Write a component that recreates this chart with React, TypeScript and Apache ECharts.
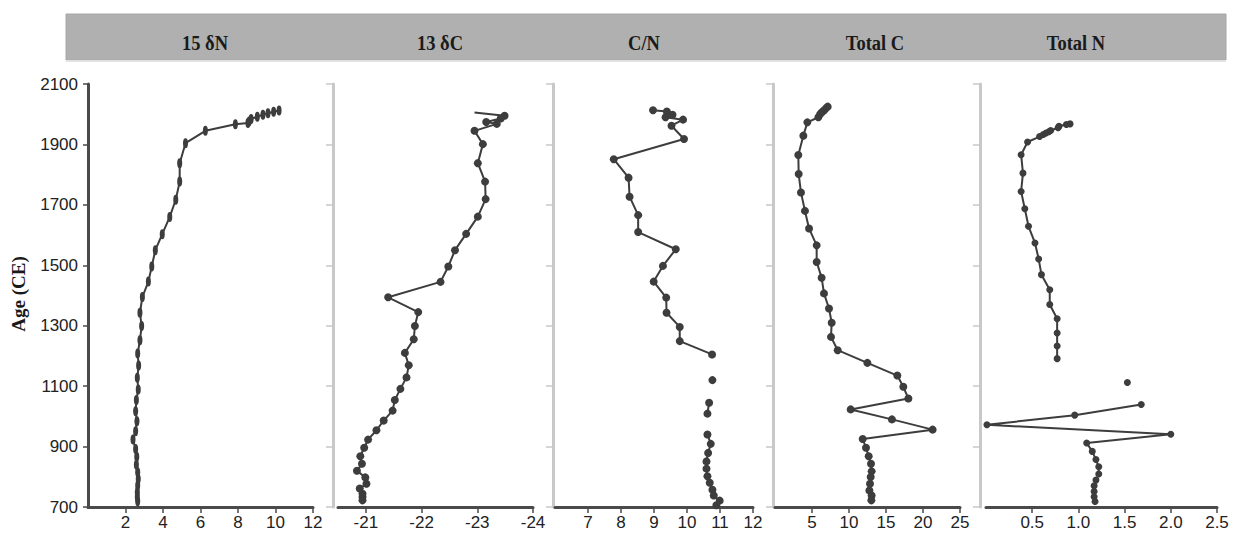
import React, { useEffect, useRef } from "react";
import * as echarts from "echarts";

// ---- Data ----
const panelTitles = ["15 δN", "13 δC", "C/N", "Total C", "Total N"];
const ageTicks = [700, 900, 1100, 1300, 1500, 1700, 1900, 2100];

const n15Value = [10.19, 9.9, 9.6, 9.33, 9.03, 8.7, 8.59, 8.53, 7.86, 6.26, 5.2, 4.89, 4.89, 4.68, 4.36, 3.96, 3.59, 3.4, 3.22, 2.9, 2.77, 2.86, 2.77, 2.65, 2.7, 2.63, 2.68, 2.58, 2.54, 2.61, 2.54, 2.4, 2.54, 2.6, 2.58, 2.65, 2.68, 2.65, 2.63, 2.63, 2.65];
const n15Year = [2012, 2008, 2003, 1998, 1992, 1984, 1976, 1971, 1967, 1945, 1904, 1838, 1777, 1717, 1660, 1603, 1550, 1496, 1446, 1395, 1343, 1299, 1252, 1208, 1168, 1128, 1089, 1054, 1017, 984, 951, 923, 892, 866, 840, 815, 793, 771, 749, 733, 719];

const c13Value = [-22.95, -23.49, -23.42, -23.16, -23.35, -22.95, -23.1, -23.01, -23.14, -23.15, -23.01, -22.8, -22.6, -22.48, -22.34, -21.4, -21.94, -21.88, -21.86, -21.7, -21.77, -21.73, -21.62, -21.52, -21.48, -21.32, -21.19, -21.04, -20.97, -20.9, -20.93, -20.84, -20.99, -21.01, -20.89, -20.94, -20.94, -20.94];
const c13Year = [2006, 1995, 1986, 1974, 1968, 1945, 1901, 1838, 1777, 1719, 1661, 1604, 1550, 1496, 1445, 1394, 1345, 1299, 1255, 1210, 1169, 1129, 1091, 1054, 1019, 986, 954, 923, 896, 868, 843, 820, 798, 777, 761, 744, 733, 722];

const cnValue = [8.97, 9.39, 9.42, 9.56, 9.35, 9.88, 9.53, 9.91, 7.78, 8.23, 8.26, 8.52, 8.52, 9.66, 9.27, 8.99, 9.37, 9.38, 9.78, 9.78, 10.76, null, 10.77, null, 10.67, 10.62, null, 10.62, 10.72, 10.64, 10.59, 10.59, 10.62, 10.69, 10.77, 10.81, 10.99, 10.89];
const cnYear = [2013, 2009, 2001, 1998, 1990, 1982, 1962, 1918, 1851, 1790, 1727, 1666, 1610, 1553, 1498, 1446, 1393, 1343, 1296, 1249, 1205, null, 1120, null, 1045, 1009, null, 940, 909, 879, 851, 827, 802, 780, 757, 738, 721, 706];

const tcValue = [7.12, 6.9, 6.6, 6.3, 6.1, 5.86, 4.37, 3.83, 3.15, 3.2, 3.51, 4.05, 4.6, 5.63, 5.63, 6.3, 6.62, 7.3, 7.66, 7.57, 8.47, 12.48, 16.53, 17.34, 18.02, 10.23, 15.8, 21.3, 11.85, 12.3, 12.66, 12.97, 13.06, 12.93, 12.84, 12.75, 13.06, 13.02];
const tcYear = [2025, 2020, 2012, 2006, 2000, 1990, 1973, 1929, 1865, 1802, 1741, 1680, 1622, 1566, 1511, 1459, 1407, 1357, 1310, 1263, 1219, 1177, 1135, 1098, 1059, 1023, 990, 956, 925, 896, 868, 843, 818, 799, 777, 755, 738, 722];

const tnValue = [0.91, 0.87, 0.79, 0.78, 0.7, 0.68, 0.65, 0.62, 0.58, 0.45, 0.38, 0.4, 0.38, 0.42, 0.46, 0.53, 0.57, 0.6, 0.69, 0.69, 0.77, 0.77, 0.77, 0.77, null, 1.53, null, 1.68, 0.96, 0.01, 2.0, 1.09, 1.15, 1.19, 1.22, 1.22, 1.19, 1.17, 1.17, 1.17, 1.18];
const tnYear = [1968, 1966, 1960, 1955, 1946, 1942, 1938, 1933, 1926, 1908, 1866, 1805, 1744, 1687, 1629, 1574, 1521, 1469, 1419, 1370, 1323, 1276, 1233, 1191, null, 1112, null, 1039, 1004, 972, 941, 912, 884, 857, 833, 809, 789, 770, 751, 734, 718];

const xTicks1 = [2, 4, 6, 8, 10, 12];
const xTicks2 = [-21, -22, -23, -24];
const xTicks3 = [7, 8, 9, 10, 11, 12];
const xTicks4 = [5, 10, 15, 20, 25];
const xTicks5 = [0.5, 1.0, 1.5, 2.0, 2.5];

// ---- Layout ----
const grids = [
  { left: 88, width: 225, yOffset: 0 },
  { left: 338, width: 195, yOffset: 5 },
  { left: 555, width: 198, yOffset: 2 },
  { left: 775, width: 185, yOffset: 2 },
  { left: 986, width: 231, yOffset: 6 },
];
const titleCenters = [205, 440, 644, 875, 1076];

const pairs = (xs: (number | null)[], ys: (number | null)[]) =>
  xs.map((x, i) => (x === null || ys[i] === null ? ["-", "-"] : [x, ys[i]]));

export default function App() {
  const ref = useRef<HTMLDivElement>(null);

  useEffect(() => {
    if (!ref.current) return;
    const chart = echarts.init(ref.current, undefined, { renderer: "svg" });
    const dark = "#4a4a4a";
    const light = "#c8c8c8";
    const lineColor = "#3d3d3d";
    const labelFont = { fontFamily: "Liberation Sans, Arial, sans-serif", fontSize: 17, color: "#222" };

    const xCfg = [
      { min: 0, max: 12, ticks: xTicks1, inverse: false, fmt: (v: number) => String(v) },
      { min: -24, max: -20.5, ticks: xTicks2, inverse: true, fmt: (v: number) => String(v) },
      { min: 6, max: 12, ticks: xTicks3, inverse: false, fmt: (v: number) => String(v) },
      { min: 0, max: 25, ticks: xTicks4, inverse: false, fmt: (v: number) => String(v) },
      { min: 0, max: 2.5, ticks: xTicks5, inverse: false, fmt: (v: number) => v.toFixed(1) },
    ];

    const xAxis = xCfg.map((c, i) => ({
      type: "value",
      gridIndex: i,
      min: c.min,
      max: c.max,
      inverse: c.inverse,
      axisLine: { show: true, onZero: false, lineStyle: { color: dark, width: 3 } },
      axisTick: { show: true, length: 6, customValues: c.ticks, lineStyle: { color: dark, width: 1.5 } },
      axisLabel: { show: true, margin: 7, customValues: c.ticks, formatter: c.fmt, ...labelFont },
      splitLine: { show: false },
    }));

    const yAxis = grids.map((g, i) => ({
      type: "value",
      gridIndex: i,
      min: 700,
      max: 2100,
      offset: g.yOffset,
      axisLine: { show: true, onZero: false, lineStyle: { color: i === 0 ? dark : light, width: 3 } },
      axisTick: { show: true, length: i === 0 ? 5 : 7, customValues: ageTicks, lineStyle: { color: i === 0 ? dark : light, width: 1.5 } },
      axisLabel: { show: i === 0, margin: 10, customValues: ageTicks, formatter: (v: number) => String(v), ...labelFont },
      splitLine: { show: false },
    }));

    const ellipsePath = "path://M0,9a5,9 0 1,0 10,0a5,9 0 1,0 -10,0";
    const c13Data = pairs(c13Value, c13Year).map((d, i) => (i === 0 ? { value: d, symbolSize: 0 } : d));

    const seriesData = [
      pairs(n15Value, n15Year),
      c13Data,
      pairs(cnValue, cnYear),
      pairs(tcValue, tcYear),
      pairs(tnValue, tnYear),
    ];

    const series = seriesData.map((data, i) => ({
      type: "line",
      name: panelTitles[i],
      xAxisIndex: i,
      yAxisIndex: i,
      data,
      symbol: i === 0 ? ellipsePath : "circle",
      symbolSize: i === 0 ? [5, 10] : i === 4 ? 7 : 8,
      showAllSymbol: true,
      connectNulls: false,
      clip: false,
      lineStyle: { color: lineColor, width: 2 },
      itemStyle: { color: lineColor, borderWidth: 0 },
    }));

    const graphic: any[] = [
      { type: "rect", shape: { x: 66, y: 14, width: 1160, height: 46 }, style: { fill: "#b0b0b0", stroke: "#a6a6a6", lineWidth: 1 } },
      { type: "rect", shape: { x: 66, y: 60, width: 1160, height: 2 }, style: { fill: "#e2e2e2" } },
      ...panelTitles.map((t, i) => ({
        type: "text",
        x: titleCenters[i],
        y: 43,
        scaleX: 0.88,
        style: {
          text: t,
          fontFamily: "Liberation Serif, Times New Roman, serif",
          fontWeight: "bold",
          fontSize: 21,
          fill: "#1a1a1a",
          textAlign: "center",
          textVerticalAlign: "middle",
        },
      })),
      {
        type: "text",
        x: 18,
        y: 294,
        rotation: Math.PI / 2,
        style: {
          text: "Age (CE)",
          fontFamily: "Liberation Serif, Times New Roman, serif",
          fontWeight: "bold",
          fontSize: 19,
          fill: "#1a1a1a",
          textAlign: "center",
          textVerticalAlign: "middle",
        },
      },
    ];

    chart.setOption({
      animation: false,
      backgroundColor: "#ffffff",
      grid: grids.map((g) => ({ left: g.left, width: g.width, top: 84, height: 423, containLabel: false })),
      xAxis,
      yAxis,
      series,
      graphic,
    } as any);

    return () => chart.dispose();
  }, []);

  return <div ref={ref} style={{ position: "absolute", left: 0, top: 0, width: 1234, height: 537 }} />;
}
